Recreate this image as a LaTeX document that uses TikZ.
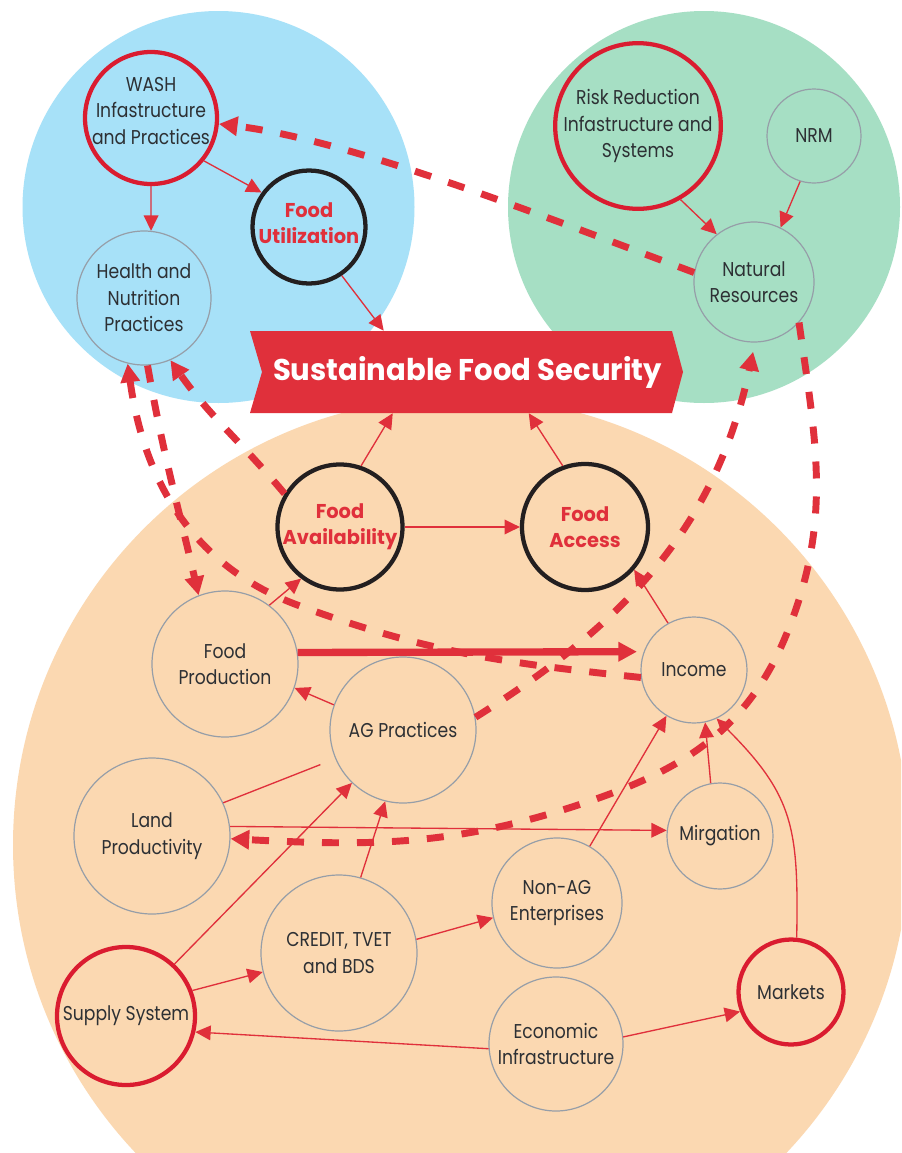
\documentclass[tikz,border=0pt]{standalone}
\usepackage{fontspec}
\setmainfont{Poppins}[FakeStretch=0.86]
\newfontfamily\boldfam{Poppins}[FakeStretch=0.97]
\usetikzlibrary{arrows.meta,calc}
\definecolor{skyb}{RGB}{167,225,248}
\definecolor{mint}{RGB}{166,223,196}
\definecolor{peach}{RGB}{251,216,177}
\definecolor{fsred}{RGB}{224,48,59}
\definecolor{ringred}{RGB}{218,28,48}
\definecolor{ringgray}{RGB}{150,158,168}
\definecolor{txt}{RGB}{45,48,52}
\definecolor{ringblack}{RGB}{35,31,32}
\newcommand\ndfont{\fontsize{15}{19.9}\selectfont}
\newcommand\kyfont{\boldfam\bfseries\fontsize{15}{19.5}\selectfont}
\newcommand\bnfont{\boldfam\bfseries\fontsize{22.5}{28}\selectfont}
\tikzset{
  base/.style={circle, inner sep=0pt, align=center, text=txt, font=\ndfont},
  plain/.style={base, draw=ringgray, line width=0.9pt},
  redring/.style={base, draw=ringred, line width=3.2pt},
  keyring/.style={base, draw=ringblack, line width=3.2pt, text=fsred, font=\kyfont},
  rad/.style={minimum size=#1*0.75pt},
  conn/.style={draw=fsred, line width=1pt, -{Triangle[length=11.5pt,width=11pt]}},
  bigconn/.style={draw=fsred, line width=5.5pt, -{Triangle[length=14pt,width=14pt]}},
  dsh/.style={draw=fsred, line width=5.2pt, dash pattern=on 12.75pt off 13.5pt, -{Triangle[length=14pt,width=14pt]}},
}
\begin{document}
\begin{tikzpicture}[x=0.75pt,y=0.75pt]
\useasboundingbox (0,0) rectangle (901,-1153);
\clip (0,0) rectangle (901,-1153);
\fill[white] (0,0) rectangle (901,-1153);
% background circles
\fill[skyb] (218.5,-207) circle[radius=196];
\fill[mint] (704,-207) circle[radius=196];
\fill[peach] (461,-845) circle[radius=448];
% banner
\fill[fsred] (250,-331) -- (672,-331) -- (683,-372) -- (672,-413) -- (250,-413) -- (262,-372) -- cycle;
\node[minimum width=324.75pt, minimum height=61.5pt, inner sep=0pt, text=white, font=\bnfont] (banner) at (467.5,-372) {Sustainable Food Security};
% nodes
\node[redring, rad=132] (wash) at (151,-118) {};
\node[font=\ndfont, text=txt, align=center, inner sep=0pt] (washtxt) at (151,-111) {WASH\\Infastructure\\and Practices};
\node[keyring, rad=113] (fu) at (309,-227) {};
\node[font=\kyfont, text=fsred, align=center, inner sep=0pt] (futxt) at (309,-223) {Food\\Utilization};
\node[plain, rad=134] (hn) at (144,-298) {Health and\\Nutrition\\Practices};
\node[redring, rad=161] (rr) at (638,-126) {Risk Reduction\\Infastructure and\\Systems};
\node[plain, rad=94] (nrm) at (814,-136) {NRM};
\node[plain, rad=120] (nr) at (754,-282) {Natural\\Resources};
\node[keyring, rad=125] (fa) at (340,-527) {Food\\Availability};
\node[keyring, rad=126] (fac) at (585,-527) {Food\\Access};
\node[plain, rad=146] (fp) at (225,-664) {Food\\Production};
\node[plain, rad=146] (ag) at (403,-730) {AG Practices};
\node[plain, rad=106] (inc) at (694,-670) {Income};
\node[plain, rad=156] (land) at (152,-836) {Land\\Productivity};
\node[plain, rad=106] (mig) at (720,-836) {Mirgation};
\node[plain, rad=156] (cr) at (339,-953) {CREDIT, TVET\\and BDS};
\node[plain, rad=130] (nag) at (557,-903) {Non-AG\\Enterprises};
\node[redring, rad=138] (sup) at (126,-1016) {Supply System};
\node[plain, rad=134] (eco) at (556,-1044) {Economic\\Infrastructure};
\node[redring, rad=105] (mkt) at (791,-992) {Markets};
% thin connectors
\draw[conn] (wash.270) -- (hn.84);
\draw[conn] (wash.321) -- (fu.144);
\draw[conn] (fu.304) -- ($(banner.north west)+(133,0)$);
\draw[conn] (rr.300) -- (nr.128);
\draw[conn] (nrm.253) -- (nr.64);
\draw[conn] (fa.71) -- ($(banner.south west)+(142,0)$);
\draw[conn] (fac.110) -- ($(banner.south west)+(278,0)$);
\draw[conn] (fa.0) -- (fac.180);
\draw[conn] (fp.53) -- (fa.233);
\draw[bigconn, shorten >=5pt] (fp.9) -- (inc.160);
\draw[conn] (inc.119) -- (fac.319);
\draw[conn] (ag.160) -- (fp.341);
\draw[conn, -, shorten >=12pt] (land.25) -- (ag.203);
\draw[conn] (land.7) -- (mig.174);
\draw[conn] (sup.47) -- (ag.226);
\draw[conn] (cr.74) -- (ag.256);
\draw[conn] (sup.21) -- (cr.194);
\draw[conn] (cr.10) -- (nag.193);
\draw[conn] (nag.60) -- (inc.239);
\draw[conn] (mig.100) -- (inc.282);
\draw[conn] (mkt.84) to[out=89,in=-45,looseness=1.2] (inc.295);
\draw[conn] (eco.184) -- (sup.347);
\draw[conn] (eco.6) -- (mkt.201);
% dashed connectors
\draw[dsh] (nr.171) .. controls (540,-215) and (350,-140) .. (wash.355);
\draw[dsh] (inc.188) to[out=174,in=-20] (300,-606) to[out=160,in=-82] (hn.256);
\draw[dsh] (hn.273) to[out=-80,in=103] (fp.111);
\draw[dsh] (fa.149) to[out=130,in=-55] (hn.293);
\draw[dsh, shorten >=7pt] (ag.10) to[out=32,in=-102] (nr.271);
\draw[dsh] (nr.318) to[out=-82,in=68] (787,-633) to[out=-112,in=19] (593,-800) to[out=-161,in=-3] (land.358);
\end{tikzpicture}
\end{document}
